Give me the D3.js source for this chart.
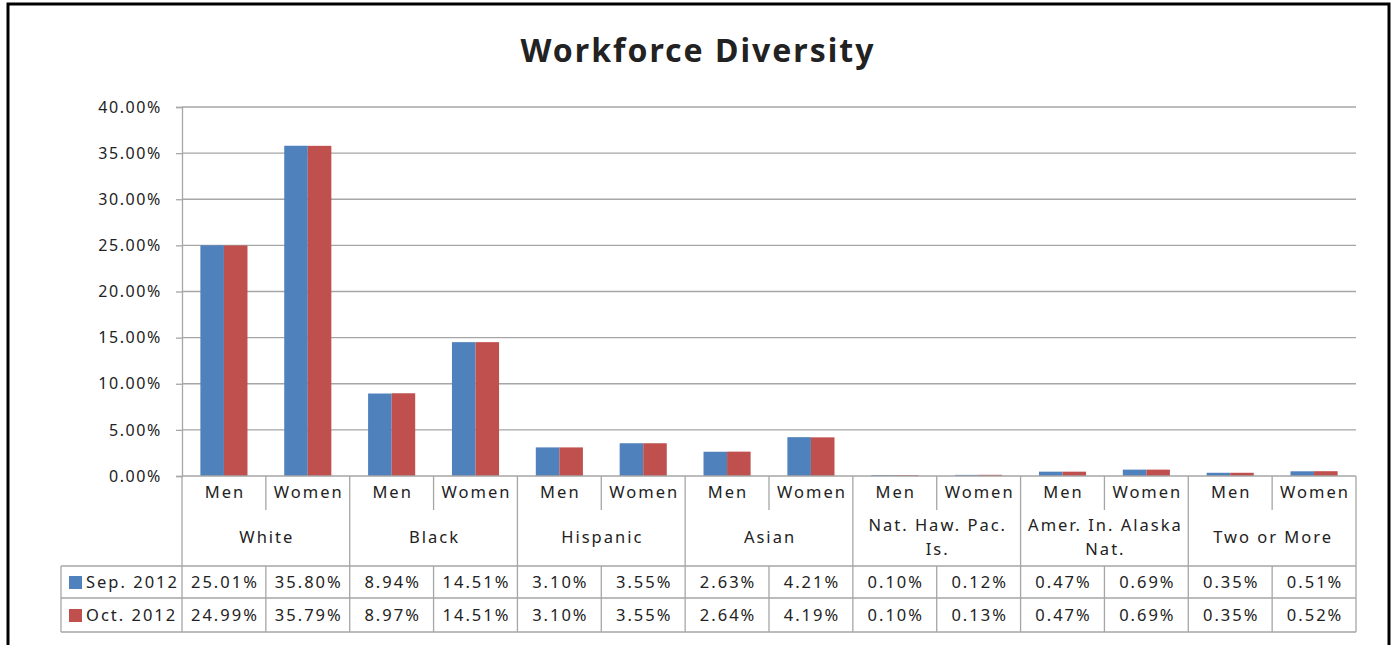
<!DOCTYPE html>
<html>
<head>
<meta charset="utf-8">
<script src="https://cdn.jsdelivr.net/npm/d3@7"></script>
<style>
  body { margin: 0; background: #fff; }
  text { font-family: "Noto Sans", sans-serif; fill: #222; }
</style>
</head>
<body>
<div id="chart"></div>
<script>
var groups = ["White", "Black", "Hispanic", "Asian", "Nat. Haw. Pac.\nIs.", "Amer. In. Alaska\nNat.", "Two or More"],
    genders = ["Men", "Women"],
    seriesNames = ["Sep. 2012", "Oct. 2012"],
    sep2012 = [25.01, 35.80, 8.94, 14.51, 3.10, 3.55, 2.63, 4.21, 0.10, 0.12, 0.47, 0.69, 0.35, 0.51],
    oct2012 = [24.99, 35.79, 8.97, 14.51, 3.10, 3.55, 2.64, 4.19, 0.10, 0.13, 0.47, 0.69, 0.35, 0.52],
    yTicks = [0, 5, 10, 15, 20, 25, 30, 35, 40],
    colors = ["#4F81BD", "#C0504D"];

var width = 1394, height = 645,
    plot = { left: 182, right: 1356, top: 107, bottom: 476 },
    legendLeft = 61,
    rowSub = 510, rowGroup = 566, row1 = 598, row2 = 632,
    lineColor = "#a6a6a6";

// one slot per (group, gender)
var cats = [];
groups.forEach(function(g, gi) {
  genders.forEach(function(s) { cats.push({ group: gi, gender: s, key: gi + ":" + s }); });
});
var series = [sep2012, oct2012];

const svg = d3.select("#chart").append("svg")
    .attr("width", width)
    .attr("height", height);

// outer frame
svg.append("rect")
    .attr("x", 8).attr("y", 4)
    .attr("width", 1381).attr("height", 700)
    .attr("fill", "none").attr("stroke", "#000").attr("stroke-width", 3);

svg.append("text")
    .attr("x", 698).attr("y", 62)
    .attr("text-anchor", "middle")
    .style("font-size", "32px").style("font-weight", "bold")
    .style("letter-spacing", "2px")
    .attr("fill", "#000")
    .text("Workforce Diversity");

var x = d3.scaleBand().domain(cats.map(c => c.key)).range([plot.left, plot.right]).padding(0);
var cw = x.bandwidth();
var xs = d3.scaleBand().domain([0, 1]).range([0, cw]).paddingInner(0).paddingOuter(0.78);
var y = d3.scaleLinear().domain([0, 40]).range([plot.bottom, plot.top]);

// gridlines
svg.append("g").selectAll("line").data(yTicks.slice(1)).enter().append("line")
    .attr("x1", plot.left).attr("x2", plot.right)
    .attr("y1", d => y(d)).attr("y2", d => y(d))
    .attr("stroke", lineColor).attr("stroke-width", 1.3);

// y axis
var yAxis = svg.append("g")
    .attr("transform", "translate(" + plot.left + ",0)")
    .call(d3.axisLeft(y).tickValues(yTicks).tickSize(6).tickPadding(14)
      .tickFormat(d => d.toFixed(2) + "%"));
yAxis.select(".domain").attr("stroke", lineColor).attr("stroke-width", 1.3);
yAxis.selectAll(".tick line").attr("stroke", lineColor).attr("stroke-width", 1.3);
yAxis.selectAll(".tick text")
    .style("font-size", "16px").style("letter-spacing", "1.6px")
    .attr("fill", "#222").attr("dy", "0.32em");

// bars
series.forEach(function(vals, si) {
  svg.append("g").selectAll("rect").data(cats).enter().append("rect")
      .attr("x", (d, i) => x(d.key) + xs(si))
      .attr("width", xs.bandwidth())
      .attr("y", (d, i) => y(vals[i]))
      .attr("height", (d, i) => y(0) - y(vals[i]))
      .attr("fill", colors[si]);
});

// category table lines
var tbl = svg.append("g").attr("stroke", lineColor).attr("stroke-width", 1.3);
tbl.append("line").attr("x1", plot.left).attr("x2", plot.right).attr("y1", plot.bottom).attr("y2", plot.bottom);
[rowGroup, row1, row2].forEach(function(yy) {
  tbl.append("line").attr("x1", legendLeft).attr("x2", plot.right).attr("y1", yy).attr("y2", yy);
});
tbl.append("line").attr("x1", legendLeft).attr("x2", legendLeft).attr("y1", rowGroup).attr("y2", row2);
d3.range(cats.length + 1).forEach(function(i) {
  var xx = plot.left + i * cw;
  var isGroupEdge = i % 2 === 0;
  tbl.append("line").attr("x1", xx).attr("x2", xx)
      .attr("y1", plot.bottom).attr("y2", isGroupEdge ? row2 : rowSub);
  if (!isGroupEdge) {
    tbl.append("line").attr("x1", xx).attr("x2", xx).attr("y1", rowGroup).attr("y2", row2);
  }
});

var small = { "font-size": "16.5px", "letter-spacing": "2px" };
function styled(sel) { Object.keys(small).forEach(k => sel.style(k, small[k])); return sel; }

// Men / Women labels
styled(svg.append("g").selectAll("text").data(cats).enter().append("text")
    .attr("x", d => x(d.key) + cw / 2 + 1).attr("y", 498)
    .attr("text-anchor", "middle")
    .text(d => d.gender));

// group labels
var gl = svg.append("g").selectAll("text").data(groups).enter().append("text")
    .attr("text-anchor", "middle")
    .attr("transform", (d, i) => "translate(" + (plot.left + (i * 2 + 1) * cw + 1) + ",0)");
styled(gl);
gl.each(function(d) {
  var lines = d.split("\n");
  var t = d3.select(this);
  lines.forEach(function(l, li) {
    t.append("tspan").attr("x", 0)
      .attr("y", 543 + (li - (lines.length - 1) / 2) * 24)
      .text(l);
  });
});

// data rows with legend keys
series.forEach(function(vals, si) {
  var top = si === 0 ? rowGroup : row1;
  var bottom = si === 0 ? row1 : row2;
  var mid = (top + bottom) / 2;
  svg.append("rect").attr("x", 69).attr("y", mid - 6).attr("width", 13).attr("height", 13)
      .attr("fill", colors[si]);
  styled(svg.append("text").attr("x", 86).attr("y", mid + 6).style("letter-spacing", "1.2px").text(seriesNames[si]));
  styled(svg.append("g").selectAll("text").data(cats).enter().append("text")
      .attr("x", d => x(d.key) + cw / 2 + 1).attr("y", mid + 6)
      .attr("text-anchor", "middle")
      .text((d, i) => vals[i].toFixed(2) + "%"));
});
</script>
</body>
</html>
